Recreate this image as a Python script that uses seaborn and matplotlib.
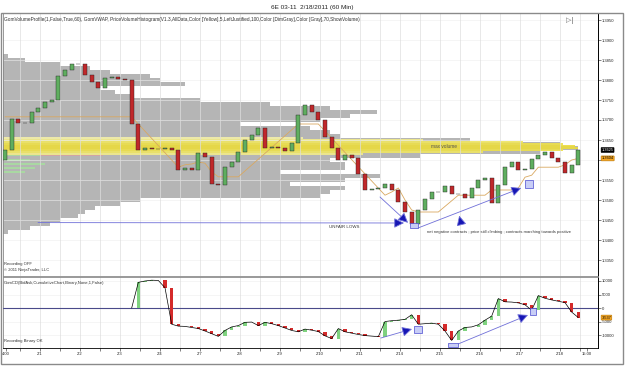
import numpy as np
import matplotlib
matplotlib.use('Agg')
import matplotlib.pyplot as plt
import matplotlib.transforms as mtransforms
from matplotlib.patches import Rectangle
import seaborn as sns

# ==================== 数据 ====================
# 4 小时一根 K 线, 时间单位 = 天 (1 = 2/1 00:00)
BAR_HOURS = 4
FIRST_BAR_DAY = 0.125
OPEN_FIRST = 1.3600
CLOSE = [1.3625, 1.3702, 1.3692, 1.3692, 1.3720, 1.3730, 1.3745, 1.3750, 1.3810, 1.3825,
         1.3840, 1.3840, 1.3812, 1.3795, 1.3780, 1.3805, 1.3808, 1.3802, 1.3800, 1.3690,
         1.3625, 1.3630, 1.3628, 1.3628, 1.3630, 1.3625, 1.3575, 1.3580, 1.3575, 1.3618,
         1.3608, 1.3540, 1.3538, 1.3582, 1.3595, 1.3620, 1.3650, 1.3662, 1.3680, 1.3630,
         1.3632, 1.3630, 1.3622, 1.3642, 1.3712, 1.3738, 1.3720, 1.3700, 1.3658, 1.3630,
         1.3600, 1.3612, 1.3605, 1.3565, 1.3525, 1.3528, 1.3530, 1.3540, 1.3525, 1.3495,
         1.3470, 1.3440, 1.3475, 1.3502, 1.3520, 1.3520, 1.3535, 1.3515, 1.3515, 1.3505,
         1.3530, 1.3550, 1.3555, 1.3492, 1.3538, 1.3582, 1.3595, 1.3575, 1.3578, 1.3602,
         1.3612, 1.3620, 1.3605, 1.3595, 1.3568, 1.3588, 1.3625]

nan = np.nan
VWAP = [1.3708] * 20 + [nan] * 6 + [1.3582, 1.3588, 1.3590, 1.3595, 1.3592, 1.3570, 1.3558,
        1.3558, 1.3558, 1.3558] + [nan] * 8 + [1.3690, 1.3690, 1.3690, 1.3690] + [nan] * 9 + \
       [1.3512, 1.3520, 1.3530, 1.3500, 1.3475, 1.3470, 1.3470, 1.3470, 1.3470, nan, nan,
        1.3512, 1.3512, 1.3512, 1.3512, 1.3512, 1.3525, 1.3525, 1.3525, 1.3525, 1.3530,
        1.3557, 1.3562, 1.3582, 1.3582, 1.3582, 1.3582, 1.3588, 1.3600, 1.3604]

CUM_DELTA = [nan] * 19 + [0, 9500, 10000, 10300, 10200, 7500, -6000, -6700, -6800, -7200,
             -7600, -8500, -9500, -10500, -8300, -7000, -6500, -5300, -5200, -6500, -5300,
             -5800, -6500, -7400, -8300, -8800, -7800, -8200, -8700, -10300, -11300, -7600,
             -8800, -9300, -9800, -10200, -10400, -10600, -5000, -4700, -4500, -4200, -2500,
             -6000, -5800, -5600, -6000, -8500, -12000, -8500, -7200, -7000, -6200, -4500,
             -3000, 3500, 2300, 2200, 1900, 1200, -800, 4600, 3600, 3000, 2500, 2000, -1500,
             -3537]

# 成交量分布 (价格档位, 成交量)
PROFILE_PRICE = [1.3860, 1.3850, 1.3840, 1.3830, 1.3820, 1.3810, 1.3800, 1.3790, 1.3780,
                 1.3770, 1.3760, 1.3750, 1.3740, 1.3730, 1.3720, 1.3710, 1.3700, 1.3690,
                 1.3680, 1.3670, 1.3660, 1.3650, 1.3640, 1.3630, 1.3620, 1.3610, 1.3600,
                 1.3590, 1.3580, 1.3570, 1.3560, 1.3550, 1.3540, 1.3530, 1.3520, 1.3510,
                 1.3500, 1.3490, 1.3480, 1.3470, 1.3460, 1.3450, 1.3440, 1.3430, 1.3420]
PROFILE_VOL = [5, 22, 57, 87, 107, 147, 157, 182, 97, 112, 127, 197, 267, 327, 374, 347,
               317, 237, 307, 327, 337, 467, 557, 575, 537, 417, 327, 342, 342, 277, 377,
               342, 287, 342, 327, 317, 137, 117, 92, 82, 75, 57, 47, 27, 5]
MAXVOL_PRICE = [1.3655, 1.3650, 1.3645, 1.3640, 1.3635, 1.3630, 1.3625, 1.3620, 1.3615]
MAXVOL_VOL = [300, 420, 520, 560, 572, 575, 560, 480, 360]
ASK_PRICE = [1.3612, 1.3600, 1.3590, 1.3580, 1.3570]
ASK_VOL = [100, 147, 107, 137, 67]
BID_VOL = [37, 27, 42, 32, 22]

PRICE_TICKS = [1.3350, 1.3400, 1.3450, 1.3500, 1.3550, 1.3600, 1.3650, 1.3700, 1.3750,
               1.3800, 1.3850, 1.3900, 1.3950]
CD_TICKS = [-10000, -5000, 0, 5000, 10000]
DAY_TICKS = [0.15, 1, 2, 3, 4, 5, 6, 7, 8, 9, 10, 11, 12, 13, 14, 14.675]
DAY_LABELS = ['4:00', '2/1', '2/2', '2/3', '2/4', '2/7', '2/8', '2/9', '2/10', '2/11',
              '2/14', '2/15', '2/16', '2/17', '2/18', '15:00']
LAST_PRICE = 1.3625
LAST_VWAP = 1.3604
LAST_CD = -3537

# ==================== 画图 ====================
sns.set_theme(style='white')
plt.rcParams['font.family'] = ['Liberation Sans', 'DejaVu Sans']

W, H = 625, 367
fig = plt.figure(figsize=(W / 100, H / 100), dpi=100)


def fx(px):
    return px / W


def fy(py):
    return 1 - py / H


ax = fig.add_axes([fx(3), fy(276), fx(598) - fx(3), fy(13) - fy(276)])
ax2 = fig.add_axes([fx(3), fy(348), fx(598) - fx(3), fy(277) - fy(348)], sharex=ax)

t = FIRST_BAR_DAY + np.arange(len(CLOSE)) * BAR_HOURS / 24
close = np.array(CLOSE)
opens = np.r_[OPEN_FIRST, close[:-1]]
x0, x1 = 0.075, 14.95
maxw = 14.375  # 最大成交量对应宽度 (天)


def draw_candles(a, tt, o, c, width, up, down, edge, lw):
    h = c - o
    colors = np.where(h >= 0, up, down)
    a.bar(tt, h, bottom=o, width=width, color=colors, edgecolor=edge, linewidth=lw, zorder=4)


# 成交量分布
scale = maxw / max(MAXVOL_VOL)
ax.barh(PROFILE_PRICE, np.array(PROFILE_VOL) * scale, height=0.001, left=x0,
        color='#b5b5b5', linewidth=0, zorder=1)
ax.barh(MAXVOL_PRICE, np.array(MAXVOL_VOL) * scale, height=0.0005, left=x0,
        color=['#f4efa8', '#f2eb8a', '#efe562', '#ede04a', '#ebdb3c', '#ebdb3c',
               '#ede04a', '#efe562', '#f2eb8a'], linewidth=0, alpha=0.9, zorder=1.2)
ax.barh(ASK_PRICE, np.array(ASK_VOL) * scale, height=0.0002, left=x0,
        color='#d9a0a0', linewidth=0, alpha=0.8, zorder=1.3)
ax.barh(ASK_PRICE, np.array(BID_VOL) * scale, height=0.0003, left=x0,
        color='#a8dca0', linewidth=0, alpha=0.9, zorder=1.35)

for d in np.arange(0.5, 15, 0.5):
    ax.axvline(d, color='#dedede', lw=0.5, zorder=1.5)
    ax2.axvline(d, color='#dedede', lw=0.5, zorder=1.5)
for p in PRICE_TICKS:
    ax.axhline(p, color='#eeeeee', lw=0.4, zorder=1.4)
for v in CD_TICKS:
    ax2.axhline(v, color='#eeeeee', lw=0.4, zorder=1.4)

# VWAP 与 K 线
sns.lineplot(x=t, y=VWAP, ax=ax, color='#d9a860', lw=0.6, zorder=3)
draw_candles(ax, t, opens, close, 0.1, '#5fae5f', '#c0282a', '#222222', 0.3)

ax.text(11.1, 1.3633, 'max volume', fontsize=3.4, color='#555555', ha='center', va='center', zorder=5)

# 标注 (上)
arrow_kw = dict(arrowstyle='-|>,head_length=0.5,head_width=0.25', lw=0.6,
                ec='#6f6fd8', fc='#1616b4', shrinkA=0, shrinkB=0)
ax.annotate('', xy=(10.1, 1.34425), xytext=(0.95, 1.34435), arrowprops=arrow_kw, zorder=6)
ax.annotate('', xy=(10.2, 1.3443), xytext=(9.5, 1.35075), arrowprops=arrow_kw, zorder=6)
ax.annotate('', xy=(13.03, 1.3530), xytext=(10.45, 1.3430), arrowprops=arrow_kw, zorder=6)
ax.annotate('', xy=(11.48, 1.3461), xytext=(11.53, 1.3441), arrowprops=arrow_kw, zorder=6)
ax.add_patch(Rectangle((10.25, 1.3430), 0.2, 0.00125, fc='#c8cdf6', ec='#4a4ad0', lw=0.5, zorder=6))
ax.add_patch(Rectangle((13.12, 1.3530), 0.2, 0.0020, fc='#c8cdf6', ec='#4a4ad0', lw=0.5, zorder=6))
ax.text(8.6, 1.3433, 'UNFAIR LOWS', fontsize=3.2, color='#333333', ha='center', va='center', zorder=6)
ax.text(10.67, 1.3421, 'net negative contracts ; price still climbing ; contracts marching towards positive',
        fontsize=3.0, color='#333333', ha='left', va='center', zorder=6)

# 累计 Delta
cd = np.array(CUM_DELTA, dtype=float)
cd_open = np.r_[nan, cd[:-1]]
draw_candles(ax2, t, cd_open, cd, 0.09, '#7fd27f', '#d42a2a', 'none', 0)
sns.lineplot(x=t, y=cd, ax=ax2, color='black', lw=0.5, zorder=5)
ax2.axhline(0, color='#4a4a8a', lw=0.8, zorder=3)

ax2.annotate('', xy=(10.3, -7778), xytext=(9.52, -11111), arrowprops=arrow_kw, zorder=6)
ax2.annotate('', xy=(13.2, -2593), xytext=(11.45, -13333), arrowprops=arrow_kw, zorder=6)
ax2.add_patch(Rectangle((10.35, -9259), 0.2, 2592, fc='#c8cdf6', ec='#4a4ad0', lw=0.5, zorder=6))
ax2.add_patch(Rectangle((11.2, -14444), 0.25, 1481, fc='#c8cdf6', ec='#4a4ad0', lw=0.5, zorder=6))
ax2.add_patch(Rectangle((13.25, -2593), 0.15, 2593, fc='#c8cdf6', ec='#4a4ad0', lw=0.5, zorder=6))

# 坐标轴
ax.set_xlim(x0, x1)
ax.set_ylim(1.3310, 1.39675)
ax2.set_ylim(-14800, 11480)
for a in (ax, ax2):
    a.set_facecolor('white')
    a.yaxis.tick_right()
    a.tick_params(axis='y', labelsize=3, length=2, width=0.4, pad=1, colors='#222222', right=True)
    for s in ('left', 'top', 'bottom'):
        a.spines[s].set_color('#888888')
        a.spines[s].set_linewidth(0.6)
    a.spines['right'].set_color('black')
    a.spines['right'].set_linewidth(0.7)
    a.set_xlabel('')
    a.set_ylabel('')
ax.set_yticks(PRICE_TICKS)
# 1.3600 被价格标签挡住
ax.set_yticklabels(['' if abs(p - 1.3600) < 1e-6 else f'{p:.4f}' for p in PRICE_TICKS])
ax.tick_params(axis='x', bottom=False, labelbottom=False)
ax2.set_yticks(CD_TICKS)
ax2.set_yticklabels([str(v) for v in CD_TICKS])
ax2.set_xticks(DAY_TICKS)
ax2.set_xticklabels(DAY_LABELS)
ax2.set_xticks(np.arange(0.5, 15, 1), minor=True)
ax2.tick_params(axis='x', which='both', labelsize=3, length=2, width=0.4, pad=1,
                colors='#222222', bottom=True)
ax2.spines['bottom'].set_color('black')

tag_kw = dict(fontsize=2.8, va='center', ha='left', clip_on=False, zorder=10)
trans = mtransforms.blended_transform_factory(ax.transAxes, ax.transData)
ax.text(1.006, LAST_PRICE, f'{LAST_PRICE:.4f}', transform=trans, color='white',
        bbox=dict(boxstyle='round,pad=0.12', fc='black', ec='black', lw=0.4), **tag_kw)
ax.text(1.006, LAST_VWAP, f'{LAST_VWAP:.4f}', transform=trans, color='black',
        bbox=dict(boxstyle='round,pad=0.12', fc='#f5a623', ec='#b87400', lw=0.4), **tag_kw)
trans2 = mtransforms.blended_transform_factory(ax2.transAxes, ax2.transData)
ax2.text(1.006, LAST_CD, f'{LAST_CD}', transform=trans2, color='black',
         bbox=dict(boxstyle='round,pad=0.12', fc='#f5a623', ec='#b87400', lw=0.4), **tag_kw)

# 文本
fig.text(0.5, fy(7), '6E 03-11  2/18/2011 (60 Min)', fontsize=4.6, ha='center', va='center', color='#222222')
fig.text(fx(4), fy(19), 'GomVolumeProfile(1,False,True,60), GomVWAP, PriceVolumeHistogram(V1.3,AllData,'
         'Color [Yellow],5,LeftJustified,100,Color [DimGray],Color [Gray],70,ShowVolume)',
         fontsize=3.4, ha='left', va='center', color='#333333')
fig.text(fx(566), fy(20), '▷|', fontsize=5, ha='left', va='center', color='#666666')
fig.text(fx(4), fy(264), 'Recording OFF', fontsize=3, ha='left', va='center', color='#333333')
fig.text(fx(4), fy(270), '© 2011 NinjaTrader, LLC', fontsize=3, ha='left', va='center', color='#333333')
fig.text(fx(4), fy(283), 'GomCD(BidAsk,CumulativeChart,Binary,None,1,False)', fontsize=3,
         ha='left', va='center', color='#333333')
fig.text(fx(4), fy(341), 'Recording Binary OK', fontsize=3, ha='left', va='center', color='#333333')

fig.add_artist(Rectangle((fx(1), fy(364)), fx(622), fy(13) - fy(364), transform=fig.transFigure,
                         fill=False, ec='#8a8a8a', lw=1.0))

fig.savefig('out.png', dpi=100, facecolor='white')
